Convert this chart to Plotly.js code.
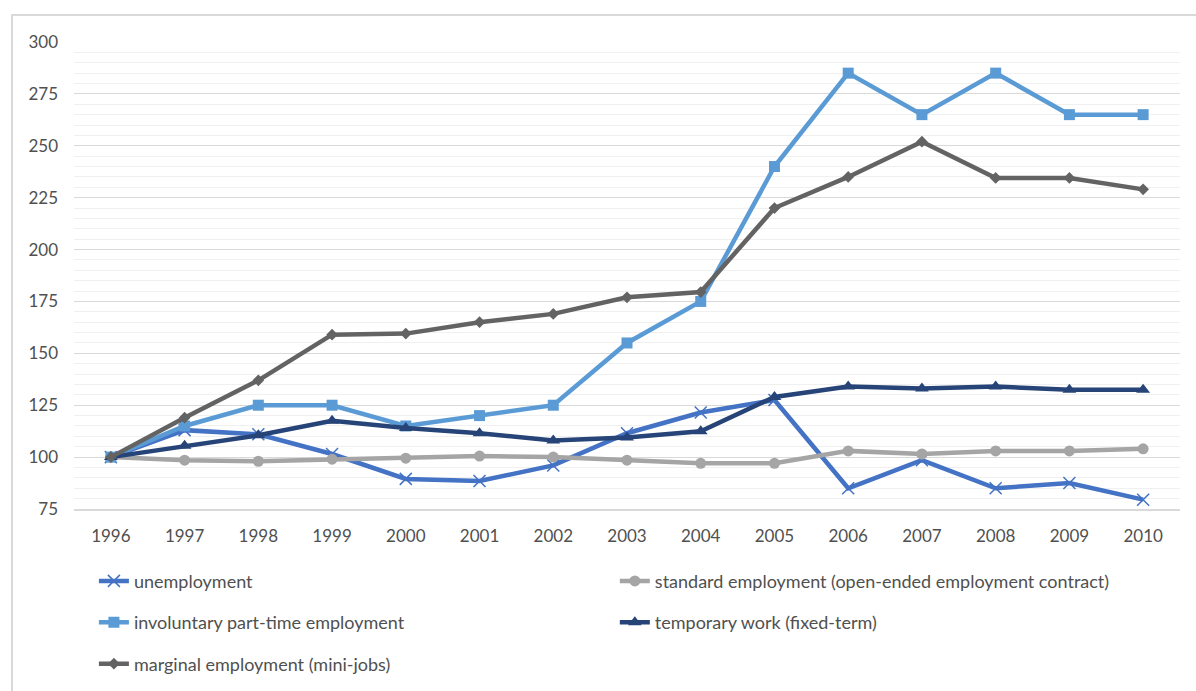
<!DOCTYPE html>
<html>
<head>
<meta charset="utf-8">
<script src="https://cdn.plot.ly/plotly-3.0.1.min.js"></script>
<style>
html,body{margin:0;padding:0;background:#fff;}
#frame{position:absolute;left:11px;top:14px;width:1185px;height:677px;border-left:2px solid #D9D9D9;border-top:2px solid #D9D9D9;box-sizing:border-box;}
#chart{position:absolute;left:0;top:0;width:1196px;height:691px;}
</style>
</head>
<body>
<div id="frame"></div>
<div id="chart"></div>
<script>
var years = ['1996','1997','1998','1999','2000','2001','2002','2003','2004','2005','2006','2007','2008','2009','2010'];
var unemployment = [100,113,111,101.5,89.5,88.5,96,111.5,121.5,127.5,85,98.5,85,87.5,79.5];
var standardEmployment = [100,98.5,98,99,99.5,100.5,100,98.5,97,97,103,101.5,103,103,104];
var involuntaryPartTime = [100,115,125,125,115,120,125,155,175,240,285,265,285,265,265];
var temporaryWork = [100,105.5,110.5,117.5,114,111.5,108,109.5,112.5,129,134,133,134,132.5,132.5];
var marginalEmployment = [100,119,137,159,159.5,165,169,177,179.5,220,235,252,234.5,234.5,229];
var yTicks = [75,100,125,150,175,200,225,250,275,300];

var seriesNames = ['unemployment','standard employment (open-ended employment contract)','involuntary part-time employment','temporary work (fixed-term)','marginal employment (mini-jobs)'];

function tr(y, name, color, symbol, size, legend, group){
  return {
    x: years, y: y, name: name, type: 'scatter', mode: 'lines+markers',
    line: {color: color, width: 4.5},
    marker: {color: color, symbol: symbol, size: size, line: {color: color, width: symbol === 'x-thin-open' ? 1.5 : 0}},
    legend: legend, legendgroup: group
  };
}

var data = [
  tr(unemployment, seriesNames[0], '#4472C4', 'x-thin-open', 12, 'legend', 'a1'),
  tr(standardEmployment, seriesNames[1], '#A5A5A5', 'circle', 11, 'legend2', 'b1'),
  tr(involuntaryPartTime, seriesNames[2], '#5B9BD5', 'square', 11, 'legend', 'a2'),
  tr(temporaryWork, seriesNames[3], '#264478', 'triangle-up', 12, 'legend2', 'b2'),
  tr(marginalEmployment, seriesNames[4], '#636363', 'diamond', 9, 'legend', 'a3')
];

var legendFont = {family: 'Lato, sans-serif', size: 18, color: '#505050'};
var layout = {
  width: 1196, height: 691,
  paper_bgcolor: 'rgba(0,0,0,0)', plot_bgcolor: 'rgba(0,0,0,0)',
  margin: {l: 74, r: 16, t: 42, b: 182, autoexpand: false},
  font: {family: 'Lato, sans-serif', size: 17, color: '#505050'},
  showlegend: true,
  xaxis: {
    type: 'category', range: [-0.5, 14.5], showgrid: false, zeroline: false,
    showline: true, linecolor: '#D9D9D9', linewidth: 1.5,
    ticks: '', ticklabelstandoff: 11, tickfont: {size: 17, color: '#505050'}
  },
  yaxis: {
    range: [75, 300], tickvals: yTicks, ticktext: yTicks.map(String),
    showgrid: true, gridcolor: '#D9D9D9', gridwidth: 1.2, zeroline: false, showline: false,
    ticks: '', ticklabelstandoff: 15, tickfont: {size: 17, color: '#505050'},
    minor: {dtick: 5, tick0: 75, showgrid: true, gridcolor: '#F0F0F0', gridwidth: 1}
  },
  legend: {
    x: 0.018, xanchor: 'left', y: -0.115, yanchor: 'top', orientation: 'v',
    traceorder: 'grouped', tracegroupgap: 15, font: legendFont,
    bgcolor: 'rgba(0,0,0,0)', itemwidth: 30
  },
  legend2: {
    x: 0.489, xanchor: 'left', y: -0.115, yanchor: 'top', orientation: 'v',
    traceorder: 'grouped', tracegroupgap: 15, font: legendFont,
    bgcolor: 'rgba(0,0,0,0)', itemwidth: 30
  }
};

Plotly.newPlot('chart', data, layout, {displayModeBar: false, staticPlot: true});
</script>
</body>
</html>
